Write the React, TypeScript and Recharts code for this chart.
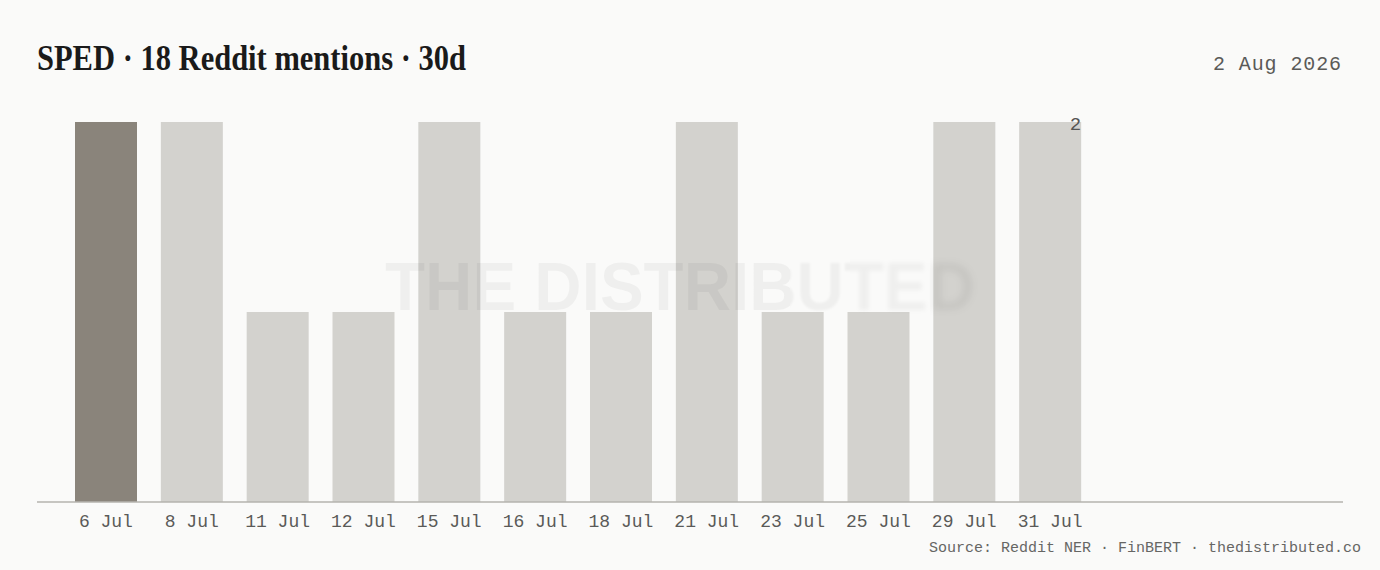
import React from 'react';
import { BarChart, Bar, XAxis, YAxis, Cell, LabelList } from 'recharts';

const categories = ['6 Jul', '8 Jul', '11 Jul', '12 Jul', '15 Jul', '16 Jul', '18 Jul', '21 Jul', '23 Jul', '25 Jul', '29 Jul', '31 Jul'];
const mentions = [2, 2, 1, 1, 2, 1, 1, 2, 1, 1, 2, 2];
const highlightIndex = 0;
const titleText = 'SPED · 18 Reddit mentions · 30d';
const dateText = '2 Aug 2026';
const sourceText = 'Source: Reddit NER · FinBERT · thedistributed.co';
const watermarkText = 'THE DISTRIBUTED';

const data = categories.map((c, i) => ({ date: c, mentions: mentions[i] }));

const MONO = '"Liberation Mono", "DejaVu Sans Mono", monospace';
const BG = '#fafaf9';
const DARK = '#8a847b';
const LIGHT = '#d3d2ce';

const Tick = (props: any) => {
  const { x, y, payload } = props;
  return (
    <text x={x} y={y + 25} textAnchor="middle" fontFamily={MONO} fontSize={18} fill="#5a5a58">
      {payload.value}
    </text>
  );
};

const LastLabel = (props: any) => {
  const { x, y, width, value, index } = props;
  if (index !== mentions.length - 1) return null;
  return (
    <text x={x + width} y={y + 7.5} textAnchor="end" fontFamily={MONO} fontSize={19} fill="#555553">
      {value}
    </text>
  );
};

export default function App() {
  const wmX = 680;
  const wmY = 310;
  const wm = (extra: any) => (
    <text
      x={wmX}
      y={wmY}
      textAnchor="middle"
      fontFamily='"Liberation Sans", Arial, sans-serif'
      fontWeight={700}
      fontSize={68}
      textLength={590}
      lengthAdjust="spacingAndGlyphs"
      fill="#000"
      fillOpacity={0.045}
      {...extra}
    >
      {watermarkText}
    </text>
  );
  return (
    <div style={{ position: 'fixed', left: 0, top: 0, width: 1380, height: 570, background: BG, overflow: 'hidden' }}>
      <div style={{ position: 'absolute', left: 0, top: 0 }}>
        <BarChart width={1380} height={570} data={data} margin={{ top: 122, right: 37, bottom: 38, left: 37 }}>
          <XAxis
            dataKey="date"
            height={30}
            interval={0}
            padding={{ left: 26, right: 250 }}
            tickLine={false}
            tickSize={0}
            tickMargin={0}
            axisLine={{ stroke: '#b5b3ae', strokeWidth: 1.5 }}
            tick={<Tick />}
          />
          <YAxis hide domain={[0, 2]} />
          <Bar dataKey="mentions" barSize={62} isAnimationActive={false}>
            {data.map((d, i) => (
              <Cell key={d.date} fill={i === highlightIndex ? DARK : LIGHT} />
            ))}
            <LabelList dataKey="mentions" content={<LastLabel />} />
          </Bar>
        </BarChart>
      </div>
      <svg width={1380} height={570} style={{ position: 'absolute', left: 0, top: 0, pointerEvents: 'none' }}>
        <defs>
          <clipPath id="wmA"><rect x={0} y={0} width={790} height={570} /></clipPath>
          <clipPath id="wmB"><rect x={790} y={0} width={60} height={570} /></clipPath>
          <clipPath id="wmC"><rect x={850} y={0} width={80} height={570} /></clipPath>
          <clipPath id="wmD"><rect x={930} y={0} width={450} height={570} /></clipPath>
          <filter id="bl1" x="-20%" y="-50%" width="140%" height="200%"><feGaussianBlur stdDeviation={1} /></filter>
          <filter id="bl2" x="-20%" y="-50%" width="140%" height="200%"><feGaussianBlur stdDeviation={2} /></filter>
          <filter id="bl3" x="-20%" y="-50%" width="140%" height="200%"><feGaussianBlur stdDeviation={3.5} /></filter>
        </defs>
        <g clipPath="url(#wmA)">{wm({})}</g>
        <g clipPath="url(#wmB)">{wm({ filter: 'url(#bl1)' })}</g>
        <g clipPath="url(#wmC)">{wm({ filter: 'url(#bl2)' })}</g>
        <g clipPath="url(#wmD)">{wm({ filter: 'url(#bl3)', fillOpacity: 0.06 })}</g>
        <text
          x={37}
          y={70}
          fontFamily='"Liberation Serif", "DejaVu Serif", serif'
          fontWeight={700}
          fontSize={36}
          textLength={429}
          lengthAdjust="spacingAndGlyphs"
          fill="#1a1a1a"
        >
          {titleText}
        </text>
        <text x={1342} y={70} textAnchor="end" fontFamily={MONO} fontSize={20} letterSpacing={0.9} fill="#5a5a58">
          {dateText}
        </text>
        <text x={1361} y={552} textAnchor="end" fontFamily={MONO} fontSize={15} fill="#666664">
          {sourceText}
        </text>
      </svg>
    </div>
  );
}
